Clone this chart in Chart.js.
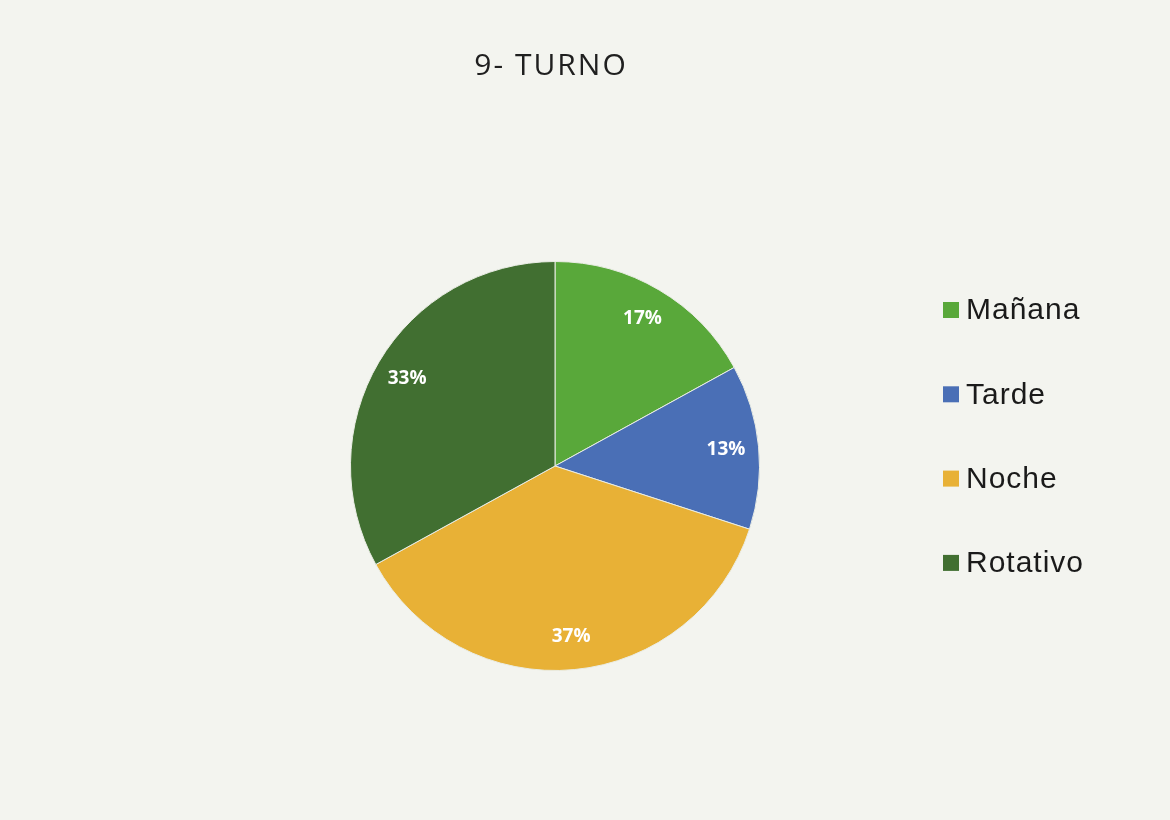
<!DOCTYPE html>
<html>
<head>
<meta charset="utf-8">
<script src="https://cdn.jsdelivr.net/npm/chart.js@4.4.0/dist/chart.umd.min.js"></script>
<style>
  html, body { margin: 0; padding: 0; background: #f3f4ef; }
  #wrap { width: 1170px; height: 820px; position: relative; }
</style>
</head>
<body>
<div id="wrap"><canvas id="c" width="1170" height="820"></canvas></div>
<script>
const title = "9- TURNO";
const categories = ["Mañana", "Tarde", "Noche", "Rotativo"];
const values = [17, 13, 37, 33];
const colors = ["#59a83a", "#4a6fb6", "#e8b136", "#416f31"];

const overlay = {
  id: 'overlay',
  afterDraw(chart) {
    const ctx = chart.ctx;
    ctx.save();
    // Title
    ctx.fillStyle = '#1f1f1f';
    ctx.font = '30px "Open Sans", "Liberation Sans", sans-serif';
    ctx.letterSpacing = '2px';
    ctx.textAlign = 'center';
    ctx.textBaseline = 'middle';
    ctx.fillText(title, 551, 66);

    // Data labels
    const meta = chart.getDatasetMeta(0);
    const total = values.reduce((a, b) => a + b, 0);
    ctx.letterSpacing = '0px';
    ctx.font = 'bold 19px "Open Sans", "Liberation Sans", sans-serif';
    ctx.fillStyle = '#ffffff';
    meta.data.forEach((arc, i) => {
      const p = arc.getProps(['x', 'y', 'startAngle', 'endAngle', 'outerRadius'], true);
      const mid = (p.startAngle + p.endAngle) / 2;
      const r = p.outerRadius * 0.84;
      const x = p.x + Math.cos(mid) * r;
      const y = p.y + Math.sin(mid) * r;
      ctx.fillText(Math.round(values[i] / total * 100) + '%', x, y);
    });

    // Legend
    ctx.textAlign = 'left';
    ctx.letterSpacing = '1px';
    ctx.font = '30px "Liberation Sans", Arial, sans-serif';
    categories.forEach((lab, i) => {
      const y = 310 + i * 84.3;
      ctx.fillStyle = colors[i];
      ctx.fillRect(943, y - 8, 16, 16);
      ctx.fillStyle = '#1a1a1a';
      ctx.fillText(lab, 966, y + 1);
    });
    ctx.restore();
  }
};

new Chart(document.getElementById('c'), {
  type: 'pie',
  data: {
    labels: categories,
    datasets: [{
      data: values,
      backgroundColor: colors,
      borderColor: '#e9ece4',
      borderWidth: 1
    }]
  },
  options: {
    responsive: false,
    animation: false,
    layout: { padding: { left: 350, right: 410, top: 261, bottom: 149 } },
    plugins: {
      legend: { display: false },
      tooltip: { enabled: false },
      title: { display: false }
    }
  },
  plugins: [overlay]
});
</script>
</body>
</html>
